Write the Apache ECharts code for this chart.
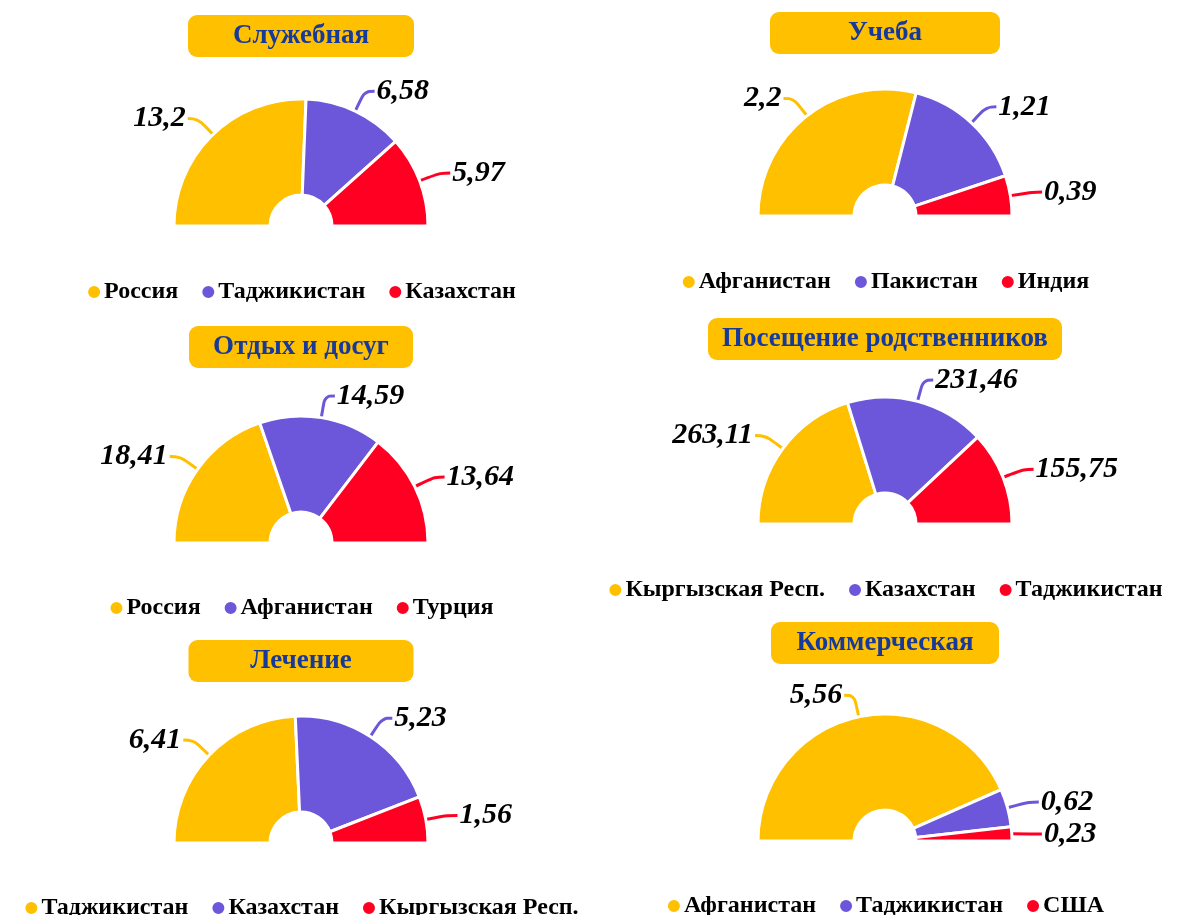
<!DOCTYPE html>
<html>
<head>
<meta charset="utf-8">
<script src="https://cdn.jsdelivr.net/npm/echarts@6/dist/echarts.min.js"></script>
<style>
  html, body { margin: 0; padding: 0; background: #fff; overflow: hidden; }
  .panel { position: absolute; }
</style>
</head>
<body>
<script>
// названия блоков
var titles = ['Служебная', 'Учеба', 'Отдых и досуг', 'Посещение родственников', 'Лечение', 'Коммерческая'];

// страны по блокам
var names1 = ['Россия', 'Таджикистан', 'Казахстан'];
var names2 = ['Афганистан', 'Пакистан', 'Индия'];
var names3 = ['Россия', 'Афганистан', 'Турция'];
var names4 = ['Кыргызская Респ.', 'Казахстан', 'Таджикистан'];
var names5 = ['Таджикистан', 'Казахстан', 'Кыргызская Респ.'];
var names6 = ['Афганистан', 'Таджикистан', 'США'];

// значения
var values1 = [13.2, 6.58, 5.97];
var values2 = [2.2, 1.21, 0.39];
var values3 = [18.41, 14.59, 13.64];
var values4 = [263.11, 231.46, 155.75];
var values5 = [6.41, 5.23, 1.56];
var values6 = [5.56, 0.62, 0.23];

var allNames = [names1, names2, names3, names4, names5, names6];
var allValues = [values1, values2, values3, values4, values5, values6];

var colors = ['#FFC000', '#6C56DA', '#FF0022'];
var font = '"Liberation Serif", "Times New Roman", serif';

// расположение блоков: div + (в абсолютных координатах) центр, заголовок, легенда
var layout = [
    { left: 0,   top: 0,   w: 602, h: 320, cy: 226, titleTop: 15,  titleW: 226, legendY: 289 },
    { left: 590, top: 0,   w: 590, h: 320, cy: 216, titleTop: 12,  titleW: 230, legendY: 279 },
    { left: 0,   top: 305, w: 602, h: 325, cy: 543, titleTop: 326, titleW: 224, legendY: 605 },
    { left: 590, top: 305, w: 590, h: 325, cy: 524, titleTop: 318, titleW: 354, legendY: 587 },
    { left: 0,   top: 615, w: 602, h: 300, cy: 843, titleTop: 640, titleW: 225, legendY: 905 },
    { left: 590, top: 615, w: 590, h: 300, cy: 841, titleTop: 622, titleW: 228, legendY: 903 }
];

function buildOption(i) {
    var L = layout[i];
    var names = allNames[i];
    var values = allValues[i];
    var data = [];
    for (var k = 0; k < names.length; k++) {
        data.push({ name: names[k], value: values[k] });
    }
    return {
        color: colors,
        animation: false,
        title: {
            text: '{box|' + titles[i] + '}',
            left: 'center',
            top: L.titleTop - L.top,
            padding: 0,
            textStyle: {
                rich: {
                    box: {
                        width: L.titleW,
                        height: 42,
                        lineHeight: 42,
                        align: 'center',
                        backgroundColor: '#FFC000',
                        borderRadius: 9,
                        color: '#17399A',
                        fontSize: 27,
                        fontWeight: 'bold',
                        fontFamily: font
                    }
                }
            }
        },
        legend: {
            data: names,
            left: 'center',
            top: L.legendY - L.top - 14,
            icon: 'circle',
            itemWidth: 14,
            itemHeight: 14,
            itemGap: 22,
            textStyle: {
                color: '#000',
                fontSize: 24,
                fontWeight: 'bold',
                fontFamily: font,
                padding: [0, 0, 0, -2]
            }
        },
        series: [{
            type: 'pie',
            center: ['50%', L.cy - L.top],
            radius: [31, 127],
            startAngle: 180,
            endAngle: 360,
            data: data,
            itemStyle: { borderColor: '#fff', borderWidth: 3 },
            label: {
                show: true,
                position: 'outside',
                formatter: function (p) { return String(p.value).replace('.', ','); },
                color: '#000',
                fontSize: 30,
                fontStyle: 'italic',
                fontWeight: 'bold',
                fontFamily: font,
                distanceToLabelLine: 2
            },
            labelLine: {
                show: true,
                length: 22,
                length2: 10,
                smooth: 0.4,
                lineStyle: { width: 3 }
            },
            emphasis: { disabled: true }
        }]
    };
}

for (var i = 0; i < layout.length; i++) {
    var L = layout[i];
    var div = document.createElement('div');
    div.className = 'panel';
    div.style.left = L.left + 'px';
    div.style.top = L.top + 'px';
    div.style.width = L.w + 'px';
    div.style.height = L.h + 'px';
    document.body.appendChild(div);
    var chart = echarts.init(div);
    chart.setOption(buildOption(i));
}
</script>
</body>
</html>
